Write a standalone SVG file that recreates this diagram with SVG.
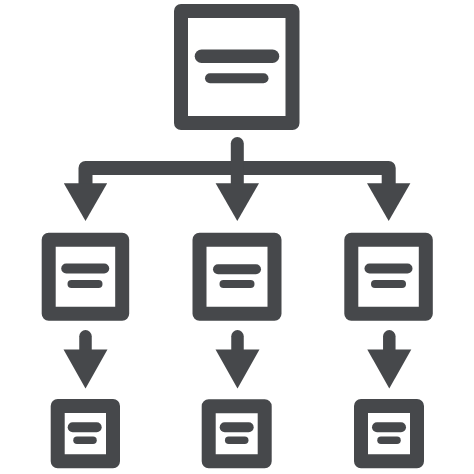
<svg xmlns="http://www.w3.org/2000/svg" width="474" height="474" viewBox="0 0 474 474">
<style>
.box{fill:#fff;stroke:#46484b;stroke-width:14;stroke-linejoin:round}
.ln{stroke:#46484b;stroke-linecap:round;fill:none}
.con{stroke:#46484b;stroke-width:14;fill:none;stroke-linejoin:round;stroke-linecap:round}
.head{fill:#46484b}
</style>
<rect width="474" height="474" fill="#fff"/>
<g id="connectors">
<path class="con" d="M85.5 192 V168 H388.7 V192"/>
<line class="con" x1="237.3" y1="143.5" x2="237.3" y2="192" style="stroke-width:13"/>
<polygon class="head" points="63.8,183.3 107.2,183.3 85.5,221"/>
<polygon class="head" points="215.6,183.3 259,183.3 237.3,221"/>
<polygon class="head" points="367,183.3 410.4,183.3 388.7,221"/>
<line class="con" x1="85.5" y1="336.3" x2="85.5" y2="355" style="stroke-width:12.5"/>
<line class="con" x1="237.5" y1="336.3" x2="237.5" y2="355" style="stroke-width:12.5"/>
<line class="con" x1="389.3" y1="336.3" x2="389.3" y2="355" style="stroke-width:12.5"/>
<polygon class="head" points="63.5,349.5 107.5,349.5 85.5,388.5"/>
<polygon class="head" points="215.5,349.5 259.5,349.5 237.5,388.5"/>
<polygon class="head" points="367.3,349.5 411.3,349.5 389.3,388.5"/>
</g>
<g id="root">
<rect class="box" x="181" y="11" width="111.5" height="112"/>
<line class="ln" x1="201.5" y1="56.3" x2="272.5" y2="56.3" stroke-width="13.5"/>
<line class="ln" x1="210" y1="78.3" x2="263.5" y2="78.3" stroke-width="10"/>
</g>
<g id="mid-left">
<rect class="box" x="48.7" y="239.7" width="73.5" height="74"/>
<line class="ln" x1="66.2" y1="268.5" x2="104.2" y2="268.5" stroke-width="10"/>
<line class="ln" x1="71.5" y1="284" x2="98.5" y2="284" stroke-width="8"/>
</g>
<g id="mid-center">
<rect class="box" x="199.5" y="239.7" width="75" height="74"/>
<line class="ln" x1="218" y1="269.3" x2="256" y2="269.3" stroke-width="10"/>
<line class="ln" x1="223.5" y1="284" x2="250.5" y2="284" stroke-width="8"/>
</g>
<g id="mid-right">
<rect class="box" x="351.3" y="239.7" width="74.5" height="74"/>
<line class="ln" x1="369.5" y1="268.5" x2="407.5" y2="268.5" stroke-width="10"/>
<line class="ln" x1="375" y1="284" x2="402" y2="284" stroke-width="8"/>
</g>
<g id="leaf-left">
<rect class="box" x="57.7" y="406" width="55.3" height="55.3"/>
<line class="ln" x1="72.7" y1="427.3" x2="96.7" y2="427.3" stroke-width="10"/>
<line class="ln" x1="77" y1="440.3" x2="93" y2="440.3" stroke-width="7.5"/>
</g>
<g id="leaf-center">
<rect class="box" x="208.7" y="406.3" width="56" height="55"/>
<line class="ln" x1="224.7" y1="427.3" x2="248.7" y2="427.3" stroke-width="10"/>
<line class="ln" x1="228.7" y1="440.3" x2="244.7" y2="440.3" stroke-width="7.5"/>
</g>
<g id="leaf-right">
<rect class="box" x="361" y="406" width="56" height="55.3"/>
<line class="ln" x1="377" y1="427.3" x2="401" y2="427.3" stroke-width="10"/>
<line class="ln" x1="381" y1="440.3" x2="397" y2="440.3" stroke-width="7.5"/>
</g>
</svg>
